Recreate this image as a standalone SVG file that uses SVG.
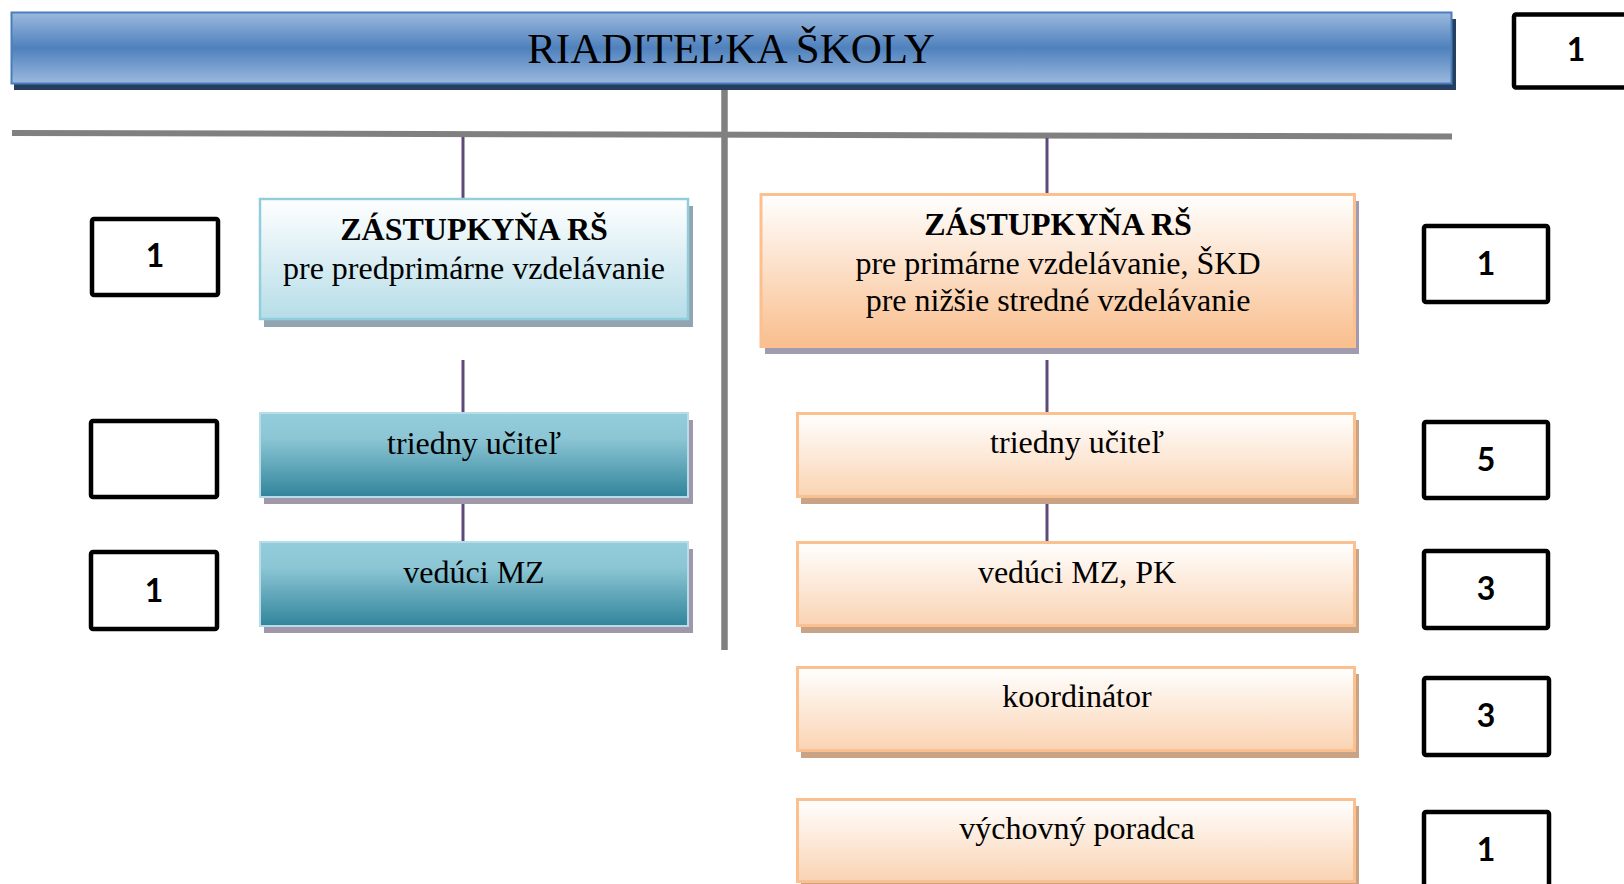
<svg xmlns="http://www.w3.org/2000/svg" width="1624" height="884" viewBox="0 0 1624 884">
<defs>
<linearGradient id="gTitle" x1="0" y1="0" x2="0" y2="1">
<stop offset="0" stop-color="#9cb9de"/>
<stop offset="0.5" stop-color="#4f81bd"/>
<stop offset="1" stop-color="#9cb9de"/>
</linearGradient>
<linearGradient id="gLight" x1="0" y1="0" x2="0" y2="1">
<stop offset="0" stop-color="#ffffff"/>
<stop offset="1" stop-color="#b6dde8"/>
</linearGradient>
<linearGradient id="gTeal" x1="0" y1="0" x2="0" y2="1">
<stop offset="0" stop-color="#93cddb"/>
<stop offset="0.3" stop-color="#8cc6d5"/>
<stop offset="1" stop-color="#31849b"/>
</linearGradient>
<linearGradient id="gOrangeBig" x1="0" y1="0" x2="0" y2="1">
<stop offset="0" stop-color="#ffffff"/>
<stop offset="1" stop-color="#f9be8d"/>
</linearGradient>
<linearGradient id="gOrange" x1="0" y1="0" x2="0" y2="1">
<stop offset="0" stop-color="#ffffff"/>
<stop offset="1" stop-color="#fad3b2"/>
</linearGradient>
</defs>
<style>
.t{font-family:"Liberation Serif","Times New Roman",serif;font-size:32px;fill:#000;text-anchor:middle}
.b{font-weight:bold}
.n{font-family:Lato,"Liberation Sans",sans-serif;font-weight:700;font-size:32px;fill:#000;text-anchor:middle}
.num{fill:#fff;stroke:#000;stroke-width:4.5}
.purple{stroke:#5f497a;stroke-width:3;fill:none}
.gray{stroke:#808080;fill:none}
.light{fill:url(#gLight);stroke:#92cddc;stroke-width:2.5}
.teal{fill:url(#gTeal);stroke:#b6dde8;stroke-width:2}
.orb{fill:url(#gOrangeBig);stroke:#fac08f;stroke-width:3}
.or{fill:url(#gOrange);stroke:#fac08f;stroke-width:3}
.shTeal{fill:#a097aa}
.shOr{fill:#c9a385}
</style>

<g id="connectors">
<line class="gray" x1="12" y1="133" x2="1452" y2="136.5" stroke-width="6"/>
<line class="gray" x1="724.5" y1="83" x2="724.5" y2="650" stroke-width="6.5"/>
<line class="purple" x1="463" y1="137" x2="463" y2="199"/>
<line class="purple" x1="463" y1="360" x2="463" y2="412"/>
<line class="purple" x1="463" y1="497" x2="463" y2="541"/>
<line class="purple" x1="1047" y1="138" x2="1047" y2="194"/>
<line class="purple" x1="1047" y1="360" x2="1047" y2="413"/>
<line class="purple" x1="1047" y1="499" x2="1047" y2="542"/>
</g>

<g id="title">
<rect x="14" y="19" width="1442" height="71" fill="#243f60"/>
<rect x="11.5" y="12.5" width="1440" height="71" fill="url(#gTitle)" stroke="#4a7ebb" stroke-width="2"/>
<text x="731" y="63" font-family="'Liberation Serif','Times New Roman',serif" font-size="43" text-anchor="middle" fill="#000">RIADITEĽKA ŠKOLY</text>
</g>
<g id="num-title">
<rect class="num" x="1514" y="14.5" width="130" height="73" rx="2"/>
<text class="n" x="1576" y="61">1</text>
</g>

<g id="zast-pred">
<rect x="264" y="206" width="429" height="121" fill="#8fa5b1"/>
<rect class="light" x="260" y="199" width="428" height="120"/>
<text class="t b" x="474" y="240">ZÁSTUPKYŇA RŠ</text>
<text class="t" x="474" y="279">pre predprimárne vzdelávanie</text>
</g>
<g id="num-pred">
<rect class="num" x="92" y="219" width="126" height="76" rx="2"/>
<text class="n" x="155" y="267">1</text>
</g>

<g id="tu-left">
<rect class="shTeal" x="264" y="420" width="429" height="84"/>
<rect class="teal" x="260" y="413" width="428" height="84"/>
<text class="t" x="474" y="454">triedny učiteľ</text>
</g>
<g id="num-tu-left">
<rect class="num" x="91" y="421" width="126" height="76" rx="2"/>
</g>

<g id="mz-left">
<rect class="shTeal" x="264" y="549" width="429" height="84"/>
<rect class="teal" x="260" y="542" width="428" height="84"/>
<text class="t" x="474" y="583">vedúci MZ</text>
</g>
<g id="num-mz-left">
<rect class="num" x="91" y="552" width="126" height="77" rx="2"/>
<text class="n" x="154" y="602">1</text>
</g>

<g id="zast-prim">
<rect x="765" y="201" width="594" height="153" fill="#a29bb0"/>
<rect class="orb" x="761" y="194.5" width="593.5" height="152"/>
<text class="t b" x="1058" y="235">ZÁSTUPKYŇA RŠ</text>
<text class="t" x="1058" y="274">pre primárne vzdelávanie, ŠKD</text>
<text class="t" x="1058" y="311">pre nižšie stredné vzdelávanie</text>
</g>
<g id="num-prim">
<rect class="num" x="1424" y="226" width="124" height="76" rx="2"/>
<text class="n" x="1486" y="275">1</text>
</g>

<g id="tu-right">
<rect class="shOr" x="801" y="420" width="558" height="84"/>
<rect class="or" x="797.5" y="413.5" width="557" height="83"/>
<text class="t" x="1077" y="453">triedny učiteľ</text>
</g>
<g id="num-tu-right">
<rect class="num" x="1424" y="422" width="124" height="76" rx="2"/>
<text class="n" x="1486" y="471">5</text>
</g>

<g id="mz-right">
<rect class="shOr" x="801" y="549" width="558" height="84"/>
<rect class="or" x="797.5" y="542.5" width="557" height="83"/>
<text class="t" x="1077" y="583">vedúci MZ, PK</text>
</g>
<g id="num-mz-right">
<rect class="num" x="1424" y="551" width="124" height="77" rx="2"/>
<text class="n" x="1486" y="600">3</text>
</g>

<g id="koord">
<rect class="shOr" x="801" y="674" width="558" height="84"/>
<rect class="or" x="797.5" y="667.5" width="557" height="83"/>
<text class="t" x="1077" y="707">koordinátor</text>
</g>
<g id="num-koord">
<rect class="num" x="1424" y="678" width="125" height="77" rx="2"/>
<text class="n" x="1486" y="727">3</text>
</g>

<g id="poradca">
<rect class="shOr" x="801" y="806" width="558" height="84"/>
<rect class="or" x="797.5" y="799.5" width="557" height="82"/>
<text class="t" x="1077" y="839">výchovný poradca</text>
</g>
<g id="num-poradca">
<rect class="num" x="1424" y="812" width="125" height="80" rx="2"/>
<text class="n" x="1486" y="861">1</text>
</g>
</svg>
